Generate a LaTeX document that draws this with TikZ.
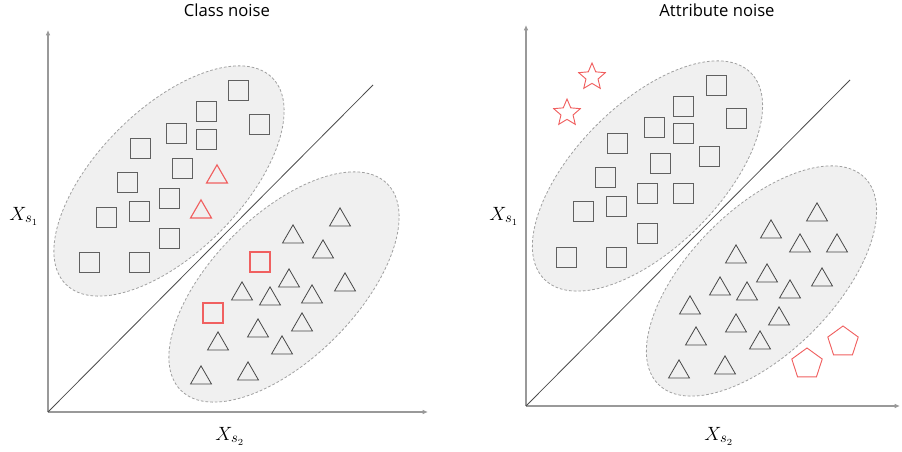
\documentclass[tikz,border=0pt]{standalone}
\usepackage{amsmath}
\usepackage{fontspec}
\setmainfont{Open Sans}
\usetikzlibrary{shapes.geometric,arrows.meta}

\definecolor{clusterfill}{HTML}{F0F0F0}
\definecolor{clusterline}{HTML}{A0A0A0}
\definecolor{noisered}{HTML}{F06060}
\definecolor{markgray}{HTML}{606060}
\definecolor{axisgray}{HTML}{999999}

\begin{document}
\begin{tikzpicture}[x=0.75pt, y=-0.75pt,
	every node/.style={inner sep=0pt},
	cluster/.style={fill=clusterfill, draw=clusterline, dash pattern=on 2pt off 1.5pt, line width=0.6pt},
	sqmark/.style={rectangle, draw=markgray, line width=0.65pt, minimum size=15pt},
	trimark/.style={regular polygon, regular polygon sides=3, draw=black!72, line width=0.6pt, minimum size=18.2pt},
	starmark/.style={star, star points=5, star point ratio=2.2, draw=noisered, line width=0.7pt, minimum size=21pt},
	pentmark/.style={regular polygon, regular polygon sides=5, draw=noisered, line width=0.7pt, minimum size=24pt},
	noise/.style={draw=noisered, line width=0.85pt},
	axis/.style={draw=axisgray, line width=0.9pt, -{Latex[length=4pt,width=3.5pt]}},
	divider/.style={draw=black!70, line width=0.6pt},
	title/.style={font=\fontsize{12.5}{15}\selectfont, anchor=base},
	axlabel/.style={font=\fontsize{15}{18}\selectfont}]
	\useasboundingbox (0,0) rectangle (902,452);

	% class noise
	\coordinate (o1) at (48,412);
	\coordinate (ytop1) at (48,30);
	\coordinate (xend1) at (428,412);
	\coordinate (dend1) at (373,85);
	\draw[cluster] (169,181) ellipse [x radius=146, y radius=72, rotate=45];
	\draw[cluster] (284,287) ellipse [x radius=146, y radius=72, rotate=45];
	\draw[axis] (o1) -- (ytop1);
	\draw[axis] (o1) -- (xend1);
	\draw[divider] (o1) -- (dend1);
	\node[title] (title1) at (227,17) {Class noise};
	\node[axlabel] (ylab1) at (24,216) {$X_{s_1}$};
	\node[axlabel] (xlab1) at (230,436) {$X_{s_2}$};
	\foreach \x/\y [count=\i] in {238/90, 206/111, 259/124, 176/133, 206/139, 140/148, 182/168,
		127/182, 169/198, 106/217, 139/211, 169/238, 89/262, 139/262}
		\node[sqmark] (csq\i) at (\x,\y) {};
	\foreach \x/\y [count=\i] in {340/220, 293/237, 323/252, 289/281, 345/285, 242/294, 270/299,
		312/297, 302/325, 258/331, 218/344, 282/348, 201/378, 248/374}
		\node[trimark] (ctri\i) at (\x,\y) {};
	\node[trimark, noise] (cnoise1) at (217,177) {};
	\node[trimark, noise] (cnoise2) at (201,212) {};
	\node[sqmark, noise] (cnoise3) at (260,262) {};
	\node[sqmark, noise] (cnoise4) at (213,313) {};

	% attribute noise
	\coordinate (o2) at (526,406);
	\coordinate (ytop2) at (526,25);
	\coordinate (xend2) at (900,406);
	\coordinate (dend2) at (850,80);
	\draw[cluster] (647.5,176) ellipse [x radius=146, y radius=72, rotate=45];
	\draw[cluster] (761.5,281) ellipse [x radius=146, y radius=72, rotate=45];
	\draw[axis] (o2) -- (ytop2);
	\draw[axis] (o2) -- (xend2);
	\draw[divider] (o2) -- (dend2);
	\node[title] (title2) at (717,17) {Attribute noise};
	\node[axlabel] (ylab2) at (504,216) {$X_{s_1}$};
	\node[axlabel] (xlab2) at (719,436) {$X_{s_2}$};
	\foreach \x/\y [count=\i] in {716/85, 683/106, 736/118, 654/127, 683/133, 617/143, 709/156, 660/163,
		605/177, 647/193, 683/193, 583/211, 616/206, 647/233, 566/257, 616/257}
		\node[sqmark] (asq\i) at (\x,\y) {};
	\foreach \x/\y [count=\i] in {817/215, 771/232, 800/246, 837/246, 736/257, 767/276, 822/280, 720/289,
		747/294, 790/292, 690/308, 779/319, 736/326, 696/339, 760/343, 679/372, 725/368}
		\node[trimark] (atri\i) at (\x,\y) {};
	\node[starmark] (anoise1) at (592,77) {};
	\node[starmark] (anoise2) at (567,113) {};
	\node[pentmark] (anoise3) at (807,364) {};
	\node[pentmark] (anoise4) at (843,342) {};
\end{tikzpicture}
\end{document}
